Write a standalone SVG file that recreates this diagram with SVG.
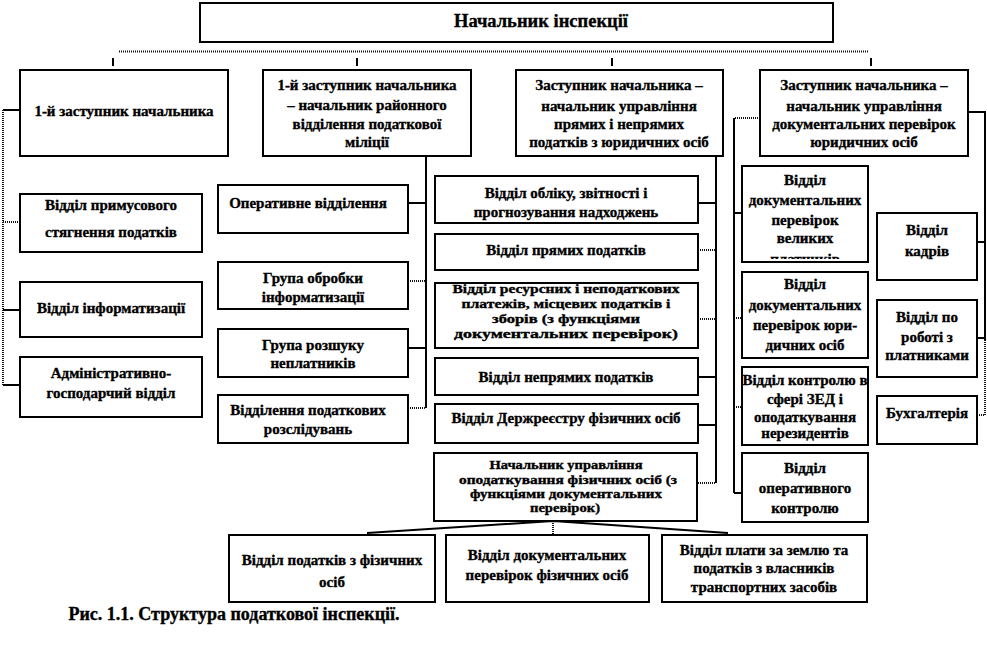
<svg xmlns="http://www.w3.org/2000/svg" width="987" height="645" viewBox="0 0 987 645">
<style>
.b{fill:#fff;stroke:#000;stroke-width:2}
.t{font-family:"Liberation Serif","DejaVu Serif",serif;font-weight:bold;font-size:15px;fill:#000;stroke:#000;stroke-width:0.35;text-anchor:middle;dominant-baseline:central}
.s{font-size:12.5px}
.s2{font-size:12px}
.big{font-size:18.5px}
.cap{font-size:18px}
.s1{fill:none;stroke:#000;stroke-width:2}
.d1{fill:none;stroke:#111;stroke-width:2;stroke-dasharray:1 1}
</style>
<defs>
<clipPath id="clipBig"><rect x="742" y="166" width="126" height="93"/></clipPath>
</defs>
<rect width="987" height="645" fill="#fff"/>

<g id="connectors">
<path class="d1" d="M119 51.5H869"/>
<path class="s1" d="M113 58V66M357 58V66M612 58V66M871 58V66"/>
<path class="s1" d="M20 110H3"/>
<path class="d1" d="M3 110V385M3 222H20"/>
<path class="s1" d="M3 310H20M3 385H20"/>
<path class="s1" d="M426 156V408M408 203H426M408 348H426"/>
<path class="d1" d="M408 281H426M408 408H426"/>
<path class="s1" d="M716 156V483M698 203H716M698 377H716M698 425H716"/>
<path class="d1" d="M698 250H716M698 319H716M698 483H716"/>
<path class="d1" d="M760 118H734"/>
<path class="s1" d="M734 118V493M734 213H742M734 493H742"/>
<path class="d1" d="M734 318H742M734 407H742"/>
<path class="s1" d="M968 112H985V340M977 242H985M977 338H985"/>
<path class="d1" d="M985 340V415M977 415H985"/>
<path class="s1" d="M553 521L367 533M553 521L728 533" stroke-width="1.6"/>
<path class="d1" d="M553 521V538"/>
</g>

<g id="n-head"><rect class="b" x="200" y="3" width="633" height="39"/><text class="t big" x="541" y="21">Начальник інспекції</text></g>

<g id="n-a"><rect class="b" x="20" y="70" width="208" height="86"/><text class="t" x="124" y="111">1-й заступник начальника</text></g>
<g id="n-b"><rect class="b" x="263" y="70" width="208" height="86"/>
<text class="t" x="367" y="85">1-й заступник начальника</text>
<text class="t" x="367" y="105">– начальник районного</text>
<text class="t" x="367" y="124">відділення  податкової</text>
<text class="t" x="367" y="142">міліції</text></g>
<g id="n-c"><rect class="b" x="516" y="70" width="207" height="86"/>
<text class="t" x="619" y="85">Заступник начальника –</text>
<text class="t" x="619" y="106">начальник управління</text>
<text class="t" x="619" y="124">прямих і непрямих</text>
<text class="t" x="619" y="142">податків  з юридичних осіб</text></g>
<g id="n-d"><rect class="b" x="760" y="70" width="208" height="86"/>
<text class="t" x="864" y="85">Заступник начальника –</text>
<text class="t" x="864" y="106">начальник управління</text>
<text class="t" x="864" y="124">документальних  перевірок</text>
<text class="t" x="864" y="142">юридичних осіб</text></g>

<g id="n-a1"><rect class="b" x="20" y="194" width="182" height="58"/>
<text class="t" x="111" y="205">Відділ  примусового</text>
<text class="t" x="111" y="232">стягнення податків</text></g>
<g id="n-a2"><rect class="b" x="20" y="282" width="182" height="55"/>
<text class="t" x="111" y="308">Відділ  інформатизації</text></g>
<g id="n-a3"><rect class="b" x="20" y="357" width="182" height="60"/>
<text class="t" x="111" y="373">Адміністративно-</text>
<text class="t" x="111" y="393">господарчий відділ</text></g>

<g id="n-b1"><rect class="b" x="218" y="185" width="190" height="48"/>
<text class="t" x="308" y="203">Оперативне відділення</text></g>
<g id="n-b2"><rect class="b" x="218" y="262" width="190" height="47"/>
<text class="t" x="313" y="278">Група обробки</text>
<text class="t" x="313" y="297">інформатизації</text></g>
<g id="n-b3"><rect class="b" x="218" y="329" width="190" height="48"/>
<text class="t" x="313" y="345">Група розшуку</text>
<text class="t" x="313" y="363">неплатників</text></g>
<g id="n-b4"><rect class="b" x="218" y="395" width="190" height="48"/>
<text class="t" x="308" y="410">Відділення  податкових</text>
<text class="t" x="308" y="429">розслідувань</text></g>

<g id="n-c1"><rect class="b" x="435" y="176" width="263" height="47"/>
<text class="t" x="566" y="193">Відділ  обліку,  звітності і</text>
<text class="t" x="566" y="212">прогнозування надходжень</text></g>
<g id="n-c2"><rect class="b" x="435" y="234" width="263" height="36"/>
<text class="t" x="566" y="250">Відділ  прямих податків</text></g>
<g id="n-c3"><rect class="b" x="435" y="283" width="263" height="65"/>
<text class="t s" x="566" y="289" textLength="227" lengthAdjust="spacingAndGlyphs">Відділ  ресурсних і неподаткових</text>
<text class="t s" x="566" y="304" textLength="209" lengthAdjust="spacingAndGlyphs">платежів, місцевих податків  і</text>
<text class="t s" x="566" y="319" textLength="148" lengthAdjust="spacingAndGlyphs">зборів  (з функціями</text>
<text class="t s" x="566" y="334" textLength="224" lengthAdjust="spacingAndGlyphs">документальних перевірок)</text></g>
<g id="n-c4"><rect class="b" x="435" y="358" width="263" height="37"/>
<text class="t" x="566" y="377">Відділ  непрямих податків</text></g>
<g id="n-c5"><rect class="b" x="435" y="404" width="263" height="39"/>
<text class="t" x="566" y="418">Відділ  Держреєстру фізичних  осіб</text></g>
<g id="n-c6"><rect class="b" x="434" y="453" width="263" height="68"/>
<text class="t s2" x="566" y="465" textLength="153" lengthAdjust="spacingAndGlyphs">Начальник управління</text>
<text class="t s2" x="568" y="479.5" textLength="218" lengthAdjust="spacingAndGlyphs">оподаткування фізичних  осіб (з</text>
<text class="t s2" x="566" y="493.5" textLength="192" lengthAdjust="spacingAndGlyphs">функціями  документальних</text>
<text class="t s2" x="565" y="507.5" textLength="70" lengthAdjust="spacingAndGlyphs">перевірок)</text></g>

<g id="n-d1"><rect class="b" x="742" y="166" width="126" height="96"/>
<g clip-path="url(#clipBig)">
<text class="t" x="805" y="180">Відділ</text>
<text class="t" x="805" y="200">документальних</text>
<text class="t" x="805" y="220">перевірок</text>
<text class="t" x="805" y="238">великих</text>
<text class="t" x="805" y="259">платників</text></g></g>
<g id="n-d2"><rect class="b" x="742" y="272" width="126" height="86"/>
<text class="t" x="805" y="284">Відділ</text>
<text class="t" x="805" y="305">документальних</text>
<text class="t" x="805" y="325">перевірок юри-</text>
<text class="t" x="805" y="345">дичних осіб</text></g>
<g id="n-d3"><rect class="b" x="742" y="367" width="126" height="78"/>
<text class="t" x="805" y="380">Відділ контролю в</text>
<text class="t" x="805" y="399">сфері ЗЕД і</text>
<text class="t" x="805" y="417">оподаткування</text>
<text class="t" x="805" y="433">нерезидентів</text></g>
<g id="n-d4"><rect class="b" x="742" y="453" width="126" height="69"/>
<text class="t" x="805" y="468">Відділ</text>
<text class="t" x="805" y="488">оперативного</text>
<text class="t" x="805" y="508">контролю</text></g>

<g id="n-e1"><rect class="b" x="877" y="213" width="100" height="67"/>
<text class="t" x="927" y="230">Відділ</text>
<text class="t" x="927" y="251">кадрів</text></g>
<g id="n-e2"><rect class="b" x="877" y="300" width="100" height="77"/>
<text class="t" x="927" y="317">Відділ  по</text>
<text class="t" x="927" y="337">роботі з</text>
<text class="t" x="927" y="355">платниками</text></g>
<g id="n-e3"><rect class="b" x="877" y="396" width="100" height="48"/>
<text class="t" x="927" y="413">Бухгалтерія</text></g>

<g id="n-f1"><rect class="b" x="229" y="535" width="206" height="67"/>
<text class="t" x="332" y="560">Відділ  податків  з фізичних</text>
<text class="t" x="332" y="582">осіб</text></g>
<g id="n-f2"><rect class="b" x="446" y="535" width="203" height="67"/>
<text class="t" x="547" y="555">Відділ  документальних</text>
<text class="t" x="547" y="575">перевірок фізичних  осіб</text></g>
<g id="n-f3"><rect class="b" x="662" y="535" width="205" height="67"/>
<text class="t" x="764" y="550">Відділ  плати за землю та</text>
<text class="t" x="764" y="568">податків  з власників</text>
<text class="t" x="764" y="587">транспортних засобів</text></g>

<text class="t cap" x="234" y="614">Рис. 1.1. Структура податкової інспекції.</text>
</svg>
